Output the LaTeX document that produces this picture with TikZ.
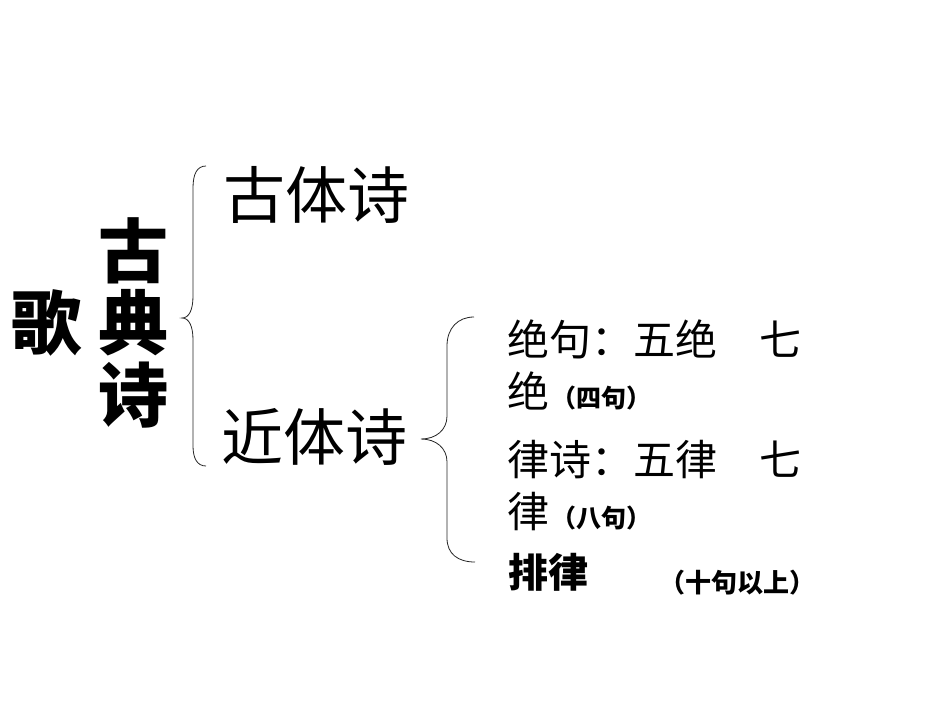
\documentclass[tikz,border=0pt]{standalone}
\usepackage{fontspec}
\newfontfamily\cjk{Noto Sans CJK SC}
\begin{document}
\begin{tikzpicture}[x=1pt,y=-1pt,
  txt/.style={inner sep=0pt,outer sep=0pt,font=\cjk},
  big/.style={txt,font=\cjk\bfseries\fontsize{70}{70}\selectfont,anchor=base},
  mid/.style={txt,font=\cjk\fontsize{62}{62}\selectfont,anchor=base west},
  item/.style={txt,font=\cjk\fontsize{42}{42}\selectfont,anchor=base west},
  bracestyle/.style={line width=0.8pt,black!85}]
\useasboundingbox[fill=white] (0,0) rectangle (950,713);
% left titles
\node[big] (ge) at (47,349) {歌};
\node[big] (gu) at (133,277) {古};
\node[big] (dian) at (133,349) {典};
\node[big] (shi) at (133,421) {诗};
% second level
\node[mid] (guti) at (223,218) {古体诗};
\node[mid] (jinti) at (221,460) {近体诗};
% third level
\node[item] (l1) at (507,355) {绝句：五绝　七};
\node[item] (l2) at (507,407) {绝\hspace{2pt}{\bfseries\fontsize{25}{25}\selectfont （四句）}};
\node[item] (l3) at (507,475) {律诗：五律　七};
\node[item] (l4) at (507,527) {律\hspace{2pt}{\bfseries\fontsize{25}{25}\selectfont （八句）}};
\node[item,font=\cjk\bfseries\fontsize{40}{40}\selectfont] (pl) at (508,587) {排律};
\node[txt,anchor=base west,font=\cjk\bfseries\fontsize{26}{26}\selectfont] (pln) at (659,592) {（十句以上）};
% brace 1
\coordinate (b1t) at (206,166);
\coordinate (b1m) at (182,318);
\coordinate (b1b) at (206,466);
\draw[bracestyle] (b1t) .. controls (197,166) and (193,174) .. (193,188)
  -- (193,296) .. controls (193,310) and (189,318) .. (b1m)
  .. controls (189,318) and (193,326) .. (193,340)
  -- (193,446) .. controls (193,458) and (197,466) .. (b1b);
% brace 2
\coordinate (b2t) at (474,317);
\coordinate (b2m) at (421,439);
\coordinate (b2b) at (475,562);
\draw[bracestyle] (b2t) .. controls (458,317) and (447,328) .. (447,346)
  -- (447,416) .. controls (447,430) and (436,439) .. (b2m)
  .. controls (436,439) and (447,448) .. (447,462)
  -- (447,538) .. controls (447,554) and (458,562) .. (b2b);
\end{tikzpicture}
\end{document}
